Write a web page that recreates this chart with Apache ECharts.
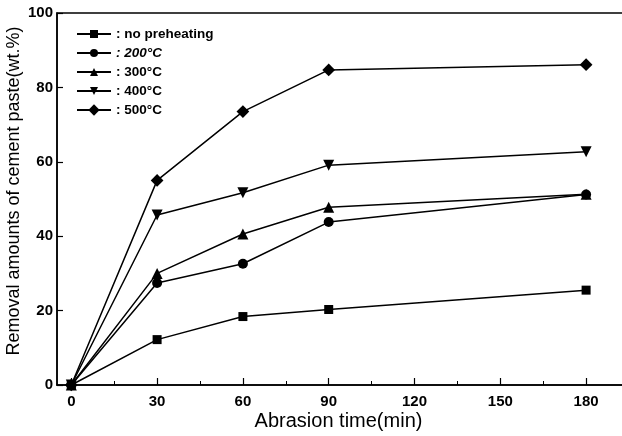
<!DOCTYPE html>
<html>
<head>
<meta charset="utf-8">
<script src="https://cdn.jsdelivr.net/npm/echarts@6/dist/echarts.min.js"></script>
<style>
  html, body { margin: 0; padding: 0; background: #fff; }
  #chart { width: 622px; height: 436px; }
</style>
</head>
<body>
<div id="chart"></div>
<script>
// abrasion time (min)
const times = [0, 30, 60, 90, 180];
const xTicks = [0, 30, 60, 90, 120, 150, 180];
const xMinorTicks = [15, 45, 75, 105, 135, 165];

// removal amounts (wt.%)
const noPreheat = [0, 12.2, 18.4, 20.3, 25.5];
const t200 = [0, 27.4, 32.6, 43.8, 51.2];
const t300 = [0, 30.0, 40.6, 47.8, 51.3];
const t400 = [0, 45.7, 51.7, 59.1, 62.7];
const t500 = [0, 55.0, 73.5, 84.7, 86.1];

const font = 'Arial, "Liberation Sans", sans-serif';

const chart = echarts.init(document.getElementById('chart'));

const pairs = (ys) => times.map((t, i) => [t, ys[i]]);

const mkSeries = (name, ys, symbol, size, rotate) => ({
  name: name,
  type: 'line',
  data: pairs(ys),
  symbol: symbol,
  symbolSize: size,
  symbolRotate: rotate || 0,
  showAllSymbol: true,
  lineStyle: { color: '#000', width: 1.5 },
  itemStyle: { color: '#000' },
  emphasis: { disabled: true },
  animation: false,
  z: 3
});

const option = {
  animation: false,
  grid: {
    left: 57,
    right: -7,
    top: 13,
    bottom: 51,
    outerBoundsMode: 'none',
    containLabel: false,
    show: true,
    borderColor: '#000',
    borderWidth: 1.5
  },
  legend: {
    orient: 'vertical',
    left: 76,
    top: 27,
    padding: 0,
    itemWidth: 34,
    itemHeight: 10,
    itemGap: 5,
    formatter: (name) => ': ' + name,
    textStyle: { fontFamily: font, fontSize: 13.5, fontWeight: 'bold', color: '#000' },
    data: [
      'no preheating',
      { name: '200°C', textStyle: { fontStyle: 'italic' } },
      '300°C',
      '400°C',
      '500°C'
    ]
  },
  xAxis: [
    {
      type: 'value',
      min: -5,
      max: 195,
      name: 'Abrasion time(min)',
      nameLocation: 'middle',
      nameGap: 26,
      nameMoveOverlap: false,
      nameTextStyle: { fontFamily: font, fontSize: 20, color: '#000', verticalAlign: 'top', padding: [0, 9, 0, 0] },
      axisLine: { show: true, onZero: false, lineStyle: { color: '#000', width: 1.5 } },
      axisTick: { show: true, inside: true, length: 7, customValues: xTicks, lineStyle: { color: '#000', width: 1.2 } },
      axisLabel: { customValues: xTicks, margin: 9, fontFamily: font, fontSize: 15, fontWeight: 'bold', color: '#000' },
      splitLine: { show: false }
    },
    {
      type: 'value',
      min: -5,
      max: 195,
      position: 'bottom',
      gridIndex: 0,
      axisLine: { show: false, onZero: false },
      axisTick: { show: true, inside: true, length: 4, customValues: xMinorTicks, lineStyle: { color: '#000', width: 1 } },
      axisLabel: { show: false },
      splitLine: { show: false }
    }
  ],
  yAxis: {
    type: 'value',
    min: 0,
    max: 100,
    interval: 20,
    name: 'Removal amounts of cement paste(wt.%)',
    nameLocation: 'middle',
    nameGap: 34,
    nameMoveOverlap: false,
    nameTextStyle: { fontFamily: font, fontSize: 18, color: '#000', padding: [0, 0, 0, 16] },
    axisLine: { show: true, onZero: false, lineStyle: { color: '#000', width: 1.5 } },
    axisTick: { show: true, inside: true, length: 6, lineStyle: { color: '#000', width: 1.2 } },
    axisLabel: { margin: 4, fontFamily: font, fontSize: 15, fontWeight: 'bold', color: '#000' },
    splitLine: { show: false }
  },
  series: [
    mkSeries('no preheating', noPreheat, 'rect', 9),
    mkSeries('200°C', t200, 'circle', 10),
    mkSeries('300°C', t300, 'triangle', 11),
    mkSeries('400°C', t400, 'triangle', 11, 180),
    mkSeries('500°C', t500, 'rect', 9, 45)
  ]
};

chart.setOption(option);
</script>
</body>
</html>
